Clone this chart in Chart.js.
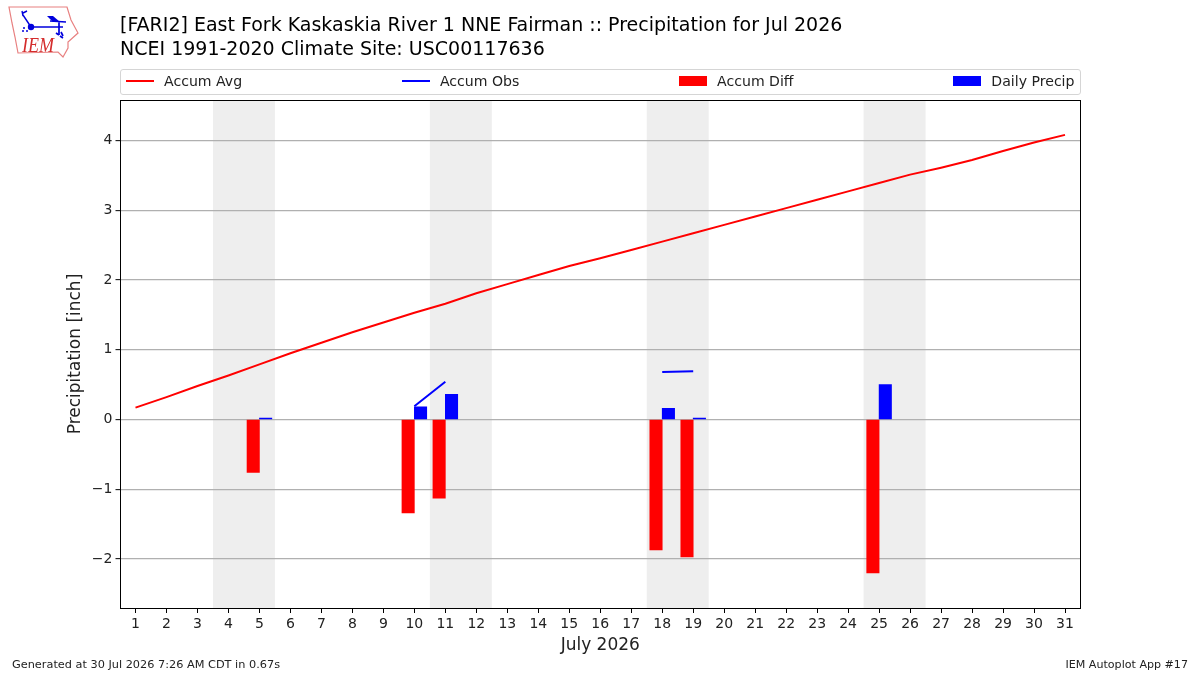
<!DOCTYPE html>
<html>
<head>
<meta charset="utf-8">
<title>Precipitation for Jul 2026</title>
<script src="https://cdn.jsdelivr.net/npm/chart.js"></script>
<style>
  html, body { margin: 0; padding: 0; background: #fff; }
  body { width: 1200px; height: 675px; position: relative; overflow: hidden; font-family: "DejaVu Sans", sans-serif; color: #000; }
  canvas { position: absolute; left: 0; top: 0; }
  #logo { position: absolute; left: 5px; top: 3px; }
  #title { position: absolute; left: 120px; top: 13px; font-size: 19px; line-height: 23.5px; white-space: nowrap; }
  #legend {
    position: absolute; left: 120px; top: 69px; width: 960.5px; height: 26px; box-sizing: border-box;
    border: 1px solid #d5d5d5; border-radius: 3px; padding: 0 5px 2px 5px;
    display: flex; justify-content: space-between; align-items: center;
    font-size: 14.1px; color: #222;
  }
  .item { display: flex; align-items: center; white-space: nowrap; }
  .swatch { width: 28px; margin-right: 10px; }
  .foot { position: absolute; top: 658px; font-size: 11.3px; color: #222; white-space: nowrap; }
</style>
</head>
<body>
<canvas id="chart" width="1200" height="675"></canvas>

<!-- IEM logo -->
<svg id="logo" width="80" height="58" viewBox="0 0 80 58">
  <path d="M4 4 L62 4 L66 17 L73 30 L63 39 L63 45 L58 54 L53 49 L13 50 L10 34 L7 20 Z"
        fill="none" stroke="#e88080" stroke-width="1.2"/>
  <path d="M26 24 H58 M54 19 V32 M45 18 L61 19" stroke="#0000dd" stroke-width="1.7" fill="none"/>
  <path d="M42 13 L48 13 L55 19 L48 19 Z" fill="#0000dd"/>
  <circle cx="26" cy="24" r="3.2" fill="#0000dd"/>
  <path d="M26 24 L18 12 M17 8 L18 13 M18 10 L22 8" stroke="#0000dd" stroke-width="1.4" fill="none"/>
  <path d="M51 30 L54 32 M56 29 L58 33 M55 33 L58 35" stroke="#0000dd" stroke-width="1.7"/>
  <circle cx="19" cy="25" r="1" fill="#0000dd"/><circle cx="18" cy="28" r="1" fill="#0000dd"/><circle cx="22" cy="28" r="1" fill="#0000dd"/>
  <text x="17" y="49" font-family="Liberation Serif" font-style="italic" font-size="21" textLength="32" lengthAdjust="spacingAndGlyphs" fill="#d42c2c">IEM</text>
</svg>

<div id="title">[FARI2] East Fork Kaskaskia River 1 NNE Fairman :: Precipitation for Jul 2026<br>NCEI 1991-2020 Climate Site: USC00117636</div>
<div id="legend"></div>
<div class="foot" style="left:12px">Generated at 30 Jul 2026 7:26 AM CDT in 0.67s</div>
<div class="foot" style="right:12px;font-size:11.1px">IEM Autoplot App #17</div>

<script>
const days = [1, 2, 3, 4, 5, 6, 7, 8, 9, 10, 11, 12, 13, 14, 15, 16, 17, 18, 19, 20, 21, 22, 23, 24, 25, 26, 27, 28, 29, 30, 31];
const accumAvg = [0.17, 0.32, 0.48, 0.63, 0.79, 0.95, 1.10, 1.25, 1.39, 1.53, 1.66, 1.81, 1.94, 2.07, 2.20, 2.31, 2.43, 2.55, 2.67, 2.79, 2.91, 3.03, 3.15, 3.27, 3.39, 3.51, 3.61, 3.72, 3.85, 3.97, 4.08];
const accumObs = [null, null, null, null, 0.02, null, null, null, null, 0.19, 0.54, null, null, null, null, null, null, 0.68, 0.69, null, null, null, null, null, 1.19, null, null, null, null, null, null];
const accumDiff = [null, null, null, null, -0.76, null, null, null, null, -1.34, -1.13, null, null, null, null, null, null, -1.87, -1.97, null, null, null, null, null, -2.20, null, null, null, null, null, null];
const dailyPrecip = [null, null, null, null, 0.02, null, null, null, null, 0.18, 0.36, null, null, null, null, null, null, 0.16, 0.02, null, null, null, null, null, 0.50, null, null, null, null, null, null];
const yTicks = [-2, -1, 0, 1, 2, 3, 4];
const weekends = [[3.5, 5.5], [10.5, 12.5], [17.5, 19.5], [24.5, 26.5]];

const pairs = (values) => days.map((d, i) => ({ x: d, y: values[i] }));

// weekend bands go under the grid, the frame goes over the bars
const bandsAndFrame = {
  id: 'bandsAndFrame',
  beforeDraw(chart) {
    const { ctx, chartArea: a, scales: { x } } = chart;
    ctx.save();
    ctx.fillStyle = '#eeeeee';
    weekends.forEach(([from, to]) => {
      const left = x.getPixelForValue(from);
      ctx.fillRect(left, a.top, x.getPixelForValue(to) - left, a.bottom - a.top);
    });
    ctx.restore();
  },
  afterDatasetsDraw(chart) {
    const { ctx, chartArea: a } = chart;
    const left = Math.floor(a.left) + 0.5;
    const top = Math.floor(a.top) + 0.5;
    const right = Math.floor(a.right) + 0.5;
    const bottom = Math.floor(a.bottom) + 0.5;
    ctx.save();
    ctx.strokeStyle = '#000';
    ctx.lineWidth = 1;
    ctx.strokeRect(left, top, right - left, bottom - top);
    ctx.restore();
  }
};

const tickFont = { family: '"DejaVu Sans"', size: 14 };
const titleFont = { family: '"DejaVu Sans"', size: 17 };

const chart = new Chart(document.getElementById('chart'), {
  type: 'bar',
  data: {
    datasets: [
      { type: 'line', label: 'Accum Avg', data: pairs(accumAvg), borderColor: '#ff0000', backgroundColor: '#ff0000', borderWidth: 2, pointRadius: 0, tension: 0, order: 1 },
      { type: 'line', label: 'Accum Obs', data: pairs(accumObs), borderColor: '#0000ff', backgroundColor: '#0000ff', borderWidth: 2, pointRadius: 0, tension: 0, spanGaps: false, order: 2 },
      { label: 'Accum Diff', data: pairs(accumDiff), backgroundColor: '#ff0000', barThickness: 12.4, order: 3 },
      { label: 'Daily Precip', data: pairs(dailyPrecip), backgroundColor: '#0000ff', barThickness: 12.4, order: 4 }
    ]
  },
  options: {
    responsive: false,
    animation: false,
    layout: { padding: { left: 0, top: 100, right: 120, bottom: 0 } },
    plugins: { legend: { display: false }, title: { display: false }, tooltip: { enabled: false } },
    scales: {
      x: {
        type: 'linear',
        offset: false,
        min: 0.516,
        max: 31.484,
        afterBuildTicks: (scale) => { scale.ticks = days.map((d) => ({ value: d })); },
        afterFit: (scale) => { scale.height = 67; },
        grid: { offset: false, drawOnChartArea: false, drawTicks: true, tickLength: 5, tickColor: '#000', tickWidth: 1 },
        border: { display: false },
        ticks: { autoSkip: false, maxRotation: 0, color: '#222', font: tickFont, padding: 3, callback: (v) => String(v) },
        title: { display: true, text: 'July 2026', color: '#222', font: titleFont, padding: { top: 0, bottom: 19 } }
      },
      y: {
        min: -2.703,
        max: 4.58,
        afterBuildTicks: (scale) => { scale.ticks = yTicks.map((v) => ({ value: v })); },
        afterFit: (scale) => { scale.width = 120.5; },
        grid: { color: '#b0b0b0', lineWidth: 1.3, tickLength: 5, tickColor: '#000', tickWidth: 1 },
        border: { display: false },
        ticks: { color: '#222', font: tickFont, padding: 3, callback: (v) => String(v).replace('-', '\u2212') },
        title: { display: true, text: 'Precipitation [inch]', color: '#222', font: titleFont, padding: { top: 65, bottom: 0 } }
      }
    }
  },
  plugins: [bandsAndFrame]
});

// legend row is spread across the plot width, so it is built by hand from the datasets
const legendBox = document.getElementById('legend');
chart.data.datasets.forEach((ds) => {
  const item = document.createElement('div');
  item.className = 'item';
  const swatch = document.createElement('div');
  swatch.className = 'swatch';
  swatch.style.height = ds.type === 'line' ? '2px' : '10px';
  swatch.style.background = ds.backgroundColor;
  item.appendChild(swatch);
  item.appendChild(document.createTextNode(ds.label));
  legendBox.appendChild(item);
});
</script>
</body>
</html>
